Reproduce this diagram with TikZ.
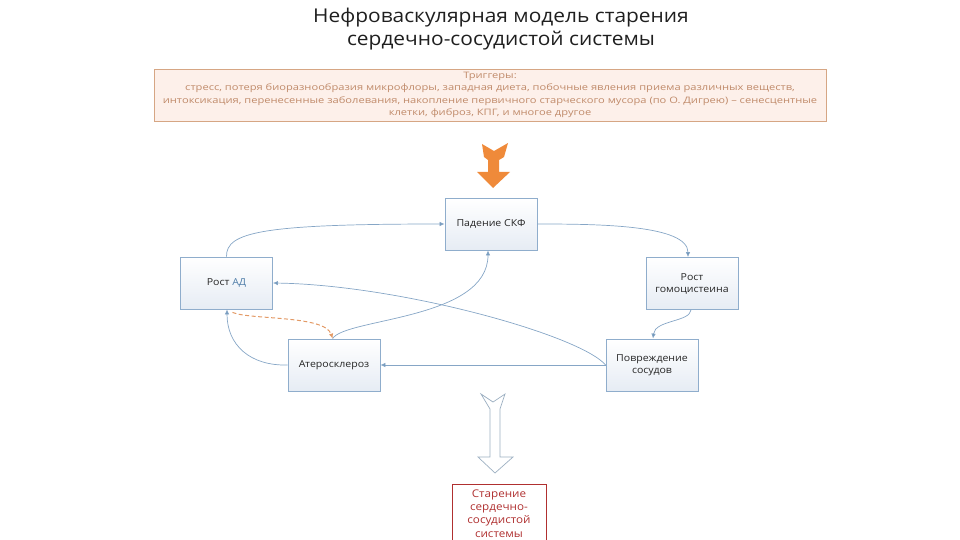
\documentclass[tikz,border=0pt]{standalone}
\usepackage{fontspec}
\setmainfont{Open Sans}
\newfontfamily\widea[FakeStretch=1.1]{Open Sans}
\newfontfamily\wideb[FakeStretch=1.25]{Open Sans}
\usetikzlibrary{arrows.meta,calc}
\definecolor{boxline}{HTML}{8FADCC}
\definecolor{conn}{HTML}{86A6C6}
\definecolor{tip}{HTML}{6A92B8}
\definecolor{boxbot}{HTML}{E6ECF4}
\definecolor{trigline}{HTML}{D6A684}
\definecolor{trigfill}{HTML}{FDF0EA}
\definecolor{trigtext}{HTML}{C08A6A}
\definecolor{orarrow}{HTML}{EF8A3A}
\definecolor{dashor}{HTML}{E39A66}
\definecolor{hollow}{HTML}{9DB0C2}
\definecolor{darkred}{HTML}{B03030}
\definecolor{adblue}{HTML}{4F7DA8}
\tikzset{
  x=1pt,y=-1pt,
  stagebox/.style={draw=boxline,line width=0.8pt,top color=white,bottom color=boxbot,
    minimum width=92pt,minimum height=52pt,inner sep=1pt,align=center,
    font=\widea\fontsize{9.6}{12}\selectfont,text=black!85},
  link/.style={draw=conn,line width=0.7pt,-{Latex[length=5pt,width=4.5pt,fill=tip]}},
  dlink/.style={draw=dashor,line width=1pt,dashed,dash pattern=on 4pt off 2.5pt,-{Latex[length=5pt,width=4.5pt,fill=dashor]}},
}
\begin{document}
\begin{tikzpicture}
\useasboundingbox (0,0) rectangle (960,540);
% title
\node[align=center,font=\widea\fontsize{19}{23}\selectfont,text=black!88] (title) at (501,29)
  {Нефроваскулярная модель старения\\сердечно-сосудистой системы};
% triggers
\node[draw=trigline,line width=0.8pt,fill=trigfill,minimum width=672pt,minimum height=52pt,
  align=center,text=trigtext,font=\wideb\fontsize{8.9}{12.3}\selectfont,inner sep=0pt] (trig) at (490,95)
  {Триггеры:\\стресс, потеря биоразнообразия микрофлоры, западная диета, побочные явления приема различных веществ,\\
   интоксикация, перенесенные заболевания, накопление первичного старческого мусора (по О. Дигрею) – сенесцентные\\
   клетки, фиброз, КПГ, и многое другое};
% orange arrow
\fill[orarrow] (482,144) -- (494,151) -- (508,143) -- (504,157) -- (499,160) -- (499,172) -- (510,172)
  -- (493,188) -- (477,172) -- (488,172) -- (488,160) -- (484,157) -- cycle;
% boxes
\node[stagebox] (skf) at (491,224) {Падение СКФ};
\node[stagebox] (ad) at (226.5,283) {Рост \textcolor{adblue}{АД}};
\node[stagebox] (homo) at (692,283.5) {Рост\\гомоцистеина};
\node[stagebox] (ath) at (334,365) {Атеросклероз};
\node[stagebox] (pov) at (652,365) {Повреждение\\сосудов};
% helper coordinates
\coordinate (athtop) at ($(ath.north west)+(45,0)$);
\coordinate (adbot) at ($(ad.south)+(0.5,0)$);
\coordinate (addash) at ($(ad.south)+(6,3)$);
\coordinate (skfbot) at ($(skf.south)+(-3,0)$);
\coordinate (homotop) at ($(homo.north)+(-4,0)$);
\coordinate (homobot) at ($(homo.south)+(-1,0)$);
\coordinate (povtop) at ($(pov.north)+(1,0)$);
% connectors
\draw[link] (ad.north) .. controls (226,232) and (262,224) .. (skf.west);
\draw[link] (skf.east) .. controls (600,224) and (688,225) .. (homotop);
\draw[link] (homobot) .. controls (690,322) and (655,320) .. (povtop);
\draw[link] (pov.west) -- (ath.east);
\draw[link] (pov.west) .. controls (580,335) and (400,285) .. (ad.east);
\draw[link] (ath.west) .. controls (250,366) and (227,345) .. (adbot);
\draw[link] (athtop) .. controls (345,318) and (488,320) .. (skfbot);
\draw[dlink] (addash) .. controls (250,320) and (325,315) .. (athtop);
% hollow arrow
\filldraw[draw=hollow,fill=white,line width=0.7pt] (481,394) -- (493,402) -- (505,394) -- (500,409)
  -- (500,457) -- (513,457) -- (495,473) -- (478,457) -- (490,457) -- (490,409) -- cycle;
% result box
\node[draw=darkred,line width=0.8pt,fill=white,minimum width=94pt,minimum height=58pt,anchor=north,
  align=center,text=darkred,font=\widea\fontsize{10.6}{13.3}\selectfont,inner sep=2pt,text depth=0pt] (old) at (499,484)
  {Старение\\сердечно-\\сосудистой\\системы};
\end{tikzpicture}
\end{document}
